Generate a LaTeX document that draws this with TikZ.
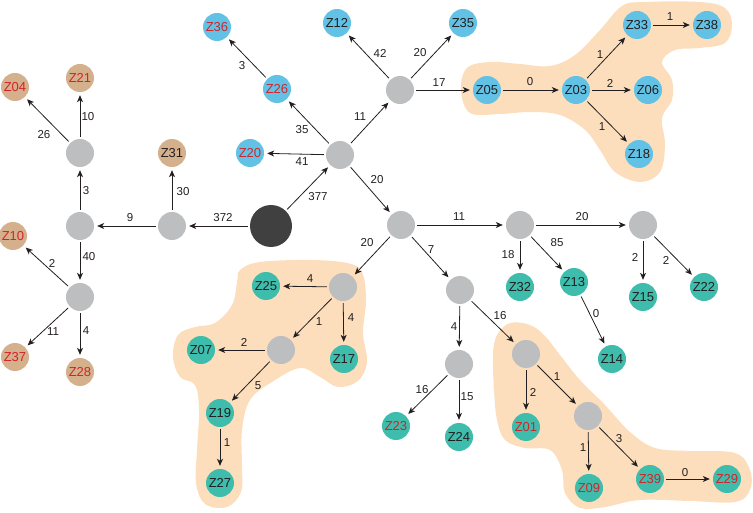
\documentclass[tikz,border=0pt]{standalone}
\usepackage{fontspec}
\setmainfont{Liberation Sans}
\usetikzlibrary{arrows.meta}
\definecolor{cgray}{RGB}{188,190,192}
\definecolor{cdark}{RGB}{64,64,65}
\definecolor{cblue}{RGB}{98,194,230}
\definecolor{cteal}{RGB}{62,189,172}
\definecolor{ctan}{RGB}{213,176,140}
\definecolor{cred}{RGB}{210,35,42}
\definecolor{cblob}{RGB}{252,222,188}
\definecolor{carr}{RGB}{35,31,32}
\begin{document}
\begin{tikzpicture}[x=1pt,y=-1pt,
  nd/.style={circle, minimum size=28pt, inner sep=0pt, text=carr, font=\fontsize{13}{13}\selectfont},
  gn/.style={nd, fill=cgray},
  bn/.style={nd, fill=cblue},
  tn/.style={nd, fill=cteal},
  an/.style={nd, fill=ctan},
  rd/.style={text=cred},
  arr/.style={draw=carr, line width=0.8pt, -{Stealth[length=7pt,width=6pt,inset=2pt]}, shorten <=2pt, shorten >=3pt},
  lab/.style={font=\fontsize{11.5}{11.5}\selectfont, inner sep=0pt, text=carr}]
\useasboundingbox (0,0) rectangle (753,513);
% highlight blobs
\fill[cblob] plot[smooth cycle, tension=0.6] coordinates {(461,90) (467,68) (490,62) (520,64) (550,66) (575,55) (600,30) (622,6) (645,2) (700,2) (725,8) (732,25) (725,43) (700,48) (675,50) (662,62) (672,80) (672,100) (662,118) (665,145) (660,172) (640,182) (615,172) (600,150) (585,130) (560,115) (530,112) (500,114) (470,113)};
\fill[cblob] plot[smooth cycle, tension=0.6] coordinates {(510,323) (530,325) (545,336) (560,355) (580,380) (605,405) (630,432) (655,448) (690,451) (735,453) (750,470) (750,490) (735,502) (690,501) (640,500) (605,507) (580,508) (565,493) (562,470) (550,450) (525,448) (505,440) (497,420) (494,390) (493,355) (497,335)};
\fill[cblob] plot[smooth cycle, tension=0.6] coordinates {(240,270) (260,262) (310,260) (347,263) (362,272) (366,300) (363,333) (367,362) (358,381) (338,387) (320,377) (300,368) (272,382) (250,400) (242,430) (242,467) (241,492) (227,507) (205,504) (196,483) (197,450) (199,410) (195,385) (180,377) (173,357) (178,335) (195,327) (215,323) (232,305) (237,283)};
% nodes
\node[nd, fill=cdark, minimum size=42pt] (R) at (271,226) {};
\node[gn] (G1) at (340,155) {};
\node[gn] (G2) at (400,90) {};
\node[gn] (G3) at (401,225) {};
\node[gn] (G4) at (520,225) {};
\node[gn] (G5) at (643,225) {};
\node[gn] (G6) at (460,290) {};
\node[gn] (G7) at (459,364) {};
\node[gn] (G8) at (526,354) {};
\node[gn] (G9) at (588,416) {};
\node[gn] (G10) at (343,287) {};
\node[gn] (G11) at (281,350) {};
\node[gn] (G12) at (172,226) {};
\node[gn] (G13) at (80,226) {};
\node[gn] (G14) at (80,153) {};
\node[gn] (G15) at (80,297) {};
% blue
\node[bn] (Z12) at (337,23) {Z12};
\node[bn] (Z35) at (463,23) {Z35};
\node[bn, rd] (Z26) at (277,89) {Z26};
\node[bn, rd] (Z36) at (217,27) {Z36};
\node[bn, rd] (Z20) at (250,153) {Z20};
\node[bn] (Z05) at (487,90) {Z05};
\node[bn] (Z03) at (576,90) {Z03};
\node[bn] (Z33) at (637,25) {Z33};
\node[bn] (Z38) at (707,25) {Z38};
\node[bn] (Z06) at (648,90) {Z06};
\node[bn] (Z18) at (639,154) {Z18};
% teal
\node[tn] (Z32) at (520,287) {Z32};
\node[tn] (Z13) at (574,282) {Z13};
\node[tn] (Z15) at (643,297) {Z15};
\node[tn] (Z22) at (704,287) {Z22};
\node[tn] (Z14) at (612,359) {Z14};
\node[tn, rd] (Z23) at (396,426) {Z23};
\node[tn] (Z24) at (459,437) {Z24};
\node[tn, rd] (Z01) at (526,427) {Z01};
\node[tn, rd] (Z09) at (589,488) {Z09};
\node[tn, rd] (Z39) at (650,479) {Z39};
\node[tn, rd] (Z29) at (727,479) {Z29};
\node[tn] (Z25) at (266,286) {Z25};
\node[tn] (Z17) at (344,359) {Z17};
\node[tn] (Z07) at (201,350) {Z07};
\node[tn] (Z19) at (220,413) {Z19};
\node[tn] (Z27) at (220,483) {Z27};
% tan
\node[an] (Z31) at (172,153) {Z31};
\node[an, rd] (Z04) at (15,87) {Z04};
\node[an, rd] (Z21) at (80,78) {Z21};
\node[an, rd] (Z10) at (13,236) {Z10};
\node[an, rd] (Z37) at (15,357) {Z37};
\node[an, rd] (Z28) at (80,372) {Z28};
% edges
\draw[arr] (R) -- (G1);
\draw[arr] (R) -- (G12);
\draw[arr] (G12) -- (G13);
\draw[arr] (G12) -- (Z31);
\draw[arr] (G13) -- (G14);
\draw[arr] (G13) -- (G15);
\draw[arr] (G14) -- (Z04);
\draw[arr] (G14) -- (Z21);
\draw[arr] (G15) -- (Z10);
\draw[arr] (G15) -- (Z37);
\draw[arr] (G15) -- (Z28);
\draw[arr] (G1) -- (Z20);
\draw[arr] (G1) -- (Z26);
\draw[arr] (Z26) -- (Z36);
\draw[arr] (G1) -- (G2);
\draw[arr] (G2) -- (Z12);
\draw[arr] (G2) -- (Z35);
\draw[arr] (G2) -- (Z05);
\draw[arr] (Z05) -- (Z03);
\draw[arr] (Z03) -- (Z33);
\draw[arr] (Z33) -- (Z38);
\draw[arr] (Z03) -- (Z06);
\draw[arr] (Z03) -- (Z18);
\draw[arr] (G1) -- (G3);
\draw[arr] (G3) -- (G4);
\draw[arr] (G4) -- (G5);
\draw[arr] (G4) -- (Z32);
\draw[arr] (G4) -- (Z13);
\draw[arr] (Z13) -- (Z14);
\draw[arr] (G5) -- (Z15);
\draw[arr] (G5) -- (Z22);
\draw[arr] (G3) -- (G6);
\draw[arr] (G6) -- (G7);
\draw[arr] (G6) -- (G8);
\draw[arr] (G7) -- (Z23);
\draw[arr] (G7) -- (Z24);
\draw[arr] (G8) -- (Z01);
\draw[arr] (G8) -- (G9);
\draw[arr] (G9) -- (Z09);
\draw[arr] (G9) -- (Z39);
\draw[arr] (Z39) -- (Z29);
\draw[arr] (G3) -- (G10);
\draw[arr] (G10) -- (Z25);
\draw[arr] (G10) -- (Z17);
\draw[arr] (G10) -- (G11);
\draw[arr] (G11) -- (Z07);
\draw[arr] (G11) -- (Z19);
\draw[arr] (Z19) -- (Z27);
% edge labels
\node[lab] (l1) at (318,197) {377};
\node[lab] (l2) at (223,218) {372};
\node[lab] (l3) at (130,218) {9};
\node[lab] (l4) at (183,192) {30};
\node[lab] (l5) at (86,191) {3};
\node[lab] (l6) at (89,257) {40};
\node[lab] (l7) at (44,135) {26};
\node[lab] (l8) at (88,117) {10};
\node[lab] (l9) at (52,263) {2};
\node[lab] (l10) at (53,332) {11};
\node[lab] (l11) at (86,331) {4};
\node[lab] (l12) at (302,162) {41};
\node[lab] (l13) at (302,130) {35};
\node[lab] (l14) at (242,66) {3};
\node[lab] (l15) at (360,117) {11};
\node[lab] (l16) at (380,53) {42};
\node[lab] (l17) at (420,53) {20};
\node[lab] (l18) at (439,83) {17};
\node[lab] (l19) at (530,82) {0};
\node[lab] (l20) at (600,55) {1};
\node[lab] (l21) at (670,17) {1};
\node[lab] (l22) at (610,83) {2};
\node[lab] (l23) at (602,127) {1};
\node[lab] (l24) at (377,180) {20};
\node[lab] (l25) at (459,217) {11};
\node[lab] (l26) at (582,217) {20};
\node[lab] (l27) at (508,255) {18};
\node[lab] (l28) at (557,243) {85};
\node[lab] (l29) at (596,314) {0};
\node[lab] (l30) at (635,257) {2};
\node[lab] (l31) at (666,260) {2};
\node[lab] (l32) at (431,250) {7};
\node[lab] (l33) at (454,327) {4};
\node[lab] (l34) at (500,316) {16};
\node[lab] (l35) at (422,390) {16};
\node[lab] (l36) at (467,397) {15};
\node[lab] (l37) at (533,392) {2};
\node[lab] (l38) at (557,377) {1};
\node[lab] (l39) at (583,448) {1};
\node[lab] (l40) at (619,439) {3};
\node[lab] (l41) at (685,473) {0};
\node[lab] (l42) at (367,243) {20};
\node[lab] (l43) at (310,279) {4};
\node[lab] (l44) at (319,322) {1};
\node[lab] (l45) at (351,318) {4};
\node[lab] (l46) at (244,342) {2};
\node[lab] (l47) at (258,386) {5};
\node[lab] (l48) at (227,443) {1};
\end{tikzpicture}
\end{document}
